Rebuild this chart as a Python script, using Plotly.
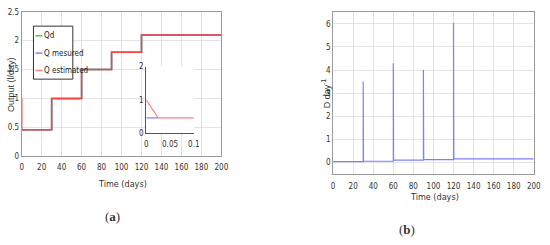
import plotly.graph_objects as go

# (a) output flow: set point, measured and estimated
t_steps = [0, 30, 30, 60, 60, 90, 90, 120, 120, 200]
q_d = [0.46, 0.46, 1.0, 1.0, 1.5, 1.5, 1.8, 1.8, 2.1, 2.1]
t_meas = [0, 30, 30, 60, 60, 90, 90, 120, 120, 200]
q_meas = [0.46, 0.46, 1.0, 1.0, 1.5, 1.5, 1.8, 1.8, 2.1, 2.1]
t_est = [0, 0.025, 30, 30, 60, 60, 90, 90, 120, 120, 200]
q_est = [1.0, 0.46, 0.46, 1.0, 1.0, 1.5, 1.5, 1.8, 1.8, 2.1, 2.1]

# inset zoom (first 0.1 day)
t_in_meas = [0, 0.025]
q_in_meas = [0.46, 0.46]
t_in_est = [0, 0.025, 0.1]
q_in_est = [1.0, 0.46, 0.46]

# (b) dilution rate with spikes at each step change
t_dil = [0, 30, 30, 30.3, 60, 60, 60.3, 90, 90, 90.3, 120, 120, 120.3, 200]
d_dil = [0.03, 0.03, 3.5, 0.05, 0.05, 4.3, 0.1, 0.1, 4.0, 0.12, 0.12, 6.05, 0.15, 0.15]

legend_names = ["Qd", "Q mesured", "Q estimated"]
legend_colors = ["#33dd33", "#8080ff", "#ff8080"]

FONT = "DejaVu Sans Condensed, Liberation Sans Narrow, Liberation Sans"
GRID = "#e3e3e3"
BOX = "#9a9a9a"

fig = go.Figure()

fig.add_trace(go.Scatter(x=t_steps, y=q_d, mode="lines", name="Qd",
                         line=dict(color="#33dd33", width=1.5), xaxis="x", yaxis="y"))
fig.add_trace(go.Scatter(x=t_meas, y=q_meas, mode="lines", name="Q mesured",
                         line=dict(color="#8080ff", width=1.5), xaxis="x", yaxis="y"))
fig.add_trace(go.Scatter(x=t_est, y=q_est, mode="lines", name="Q estimated",
                         line=dict(color="#ff4040", width=1.5), xaxis="x", yaxis="y"))

fig.add_trace(go.Scatter(x=t_in_meas, y=q_in_meas, mode="lines",
                         line=dict(color="#8080ff", width=1.2), xaxis="x3", yaxis="y3"))
fig.add_trace(go.Scatter(x=t_in_est, y=q_in_est, mode="lines",
                         line=dict(color="#ff8080", width=1.2), xaxis="x3", yaxis="y3"))

fig.add_trace(go.Scatter(x=t_dil, y=d_dil, mode="lines",
                         line=dict(color="#8080ff", width=1.2), xaxis="x2", yaxis="y2"))

tick = dict(family=FONT, size=8, color="#333")
box_axis = dict(showgrid=True, gridcolor=GRID, showline=True, linecolor=BOX, mirror=True,
                ticks="", zeroline=False, tickfont=tick)

fig.update_layout(
    width=550, height=245,
    margin=dict(l=0, r=0, t=0, b=0),
    paper_bgcolor="white", plot_bgcolor="white",
    showlegend=False,
    xaxis=dict(box_axis, domain=[0.0364, 0.4055], range=[0, 200], tickvals=list(range(0, 201, 20)),
               ticklabelstandoff=3, anchor="y"),
    yaxis=dict(box_axis, domain=[0.355, 0.967], range=[0, 2.5], tickvals=[0, 0.5, 1, 1.5, 2, 2.5], anchor="x"),
    xaxis2=dict(box_axis, domain=[0.612, 0.983], range=[0, 200], tickvals=list(range(0, 201, 20)),
                ticklabelstandoff=4, anchor="y2"),
    yaxis2=dict(box_axis, domain=[0.280, 0.9645], range=[-0.5, 6.5], tickvals=list(range(0, 7)), anchor="x2"),
    xaxis3=dict(domain=[0.2667, 0.3545], range=[0, 0.1], tickvals=[0, 0.05, 0.1], ticktext=["0", "0.05", "0.1"],
                showgrid=False, showline=True, linecolor="#555", zeroline=False, tickfont=tick,
                ticklabelstandoff=3, anchor="y3"),
    yaxis3=dict(domain=[0.453, 0.7347], range=[0, 2], tickvals=[0, 1, 2],
                showgrid=False, showline=True, linecolor="#555", zeroline=False, tickfont=tick, anchor="x3"),
)

# hand-made legend box, MATLAB style (short line samples)
fig.add_shape(type="rect", xref="paper", yref="paper", x0=32 / 550, x1=72 / 550,
              y0=1 - 78 / 245, y1=1 - 23 / 245, line=dict(color="#333", width=1), fillcolor="white")
for i, (nm, col) in enumerate(zip(legend_names, legend_colors)):
    yy = 1 - (33 + i * 18) / 245
    fig.add_shape(type="line", xref="paper", yref="paper", x0=34 / 550, x1=41 / 550, y0=yy, y1=yy,
                  line=dict(color=col, width=1.5))
    fig.add_annotation(text=nm, x=41 / 550, y=yy, xref="paper", yref="paper", xanchor="left",
                       yanchor="middle", showarrow=False, font=dict(family=FONT, size=8, color="#222"))


def label(txt, px, py, size=9, angle=0, family=FONT, xanchor="center"):
    fig.add_annotation(text=txt, x=px / 550, y=1 - py / 245, xref="paper", yref="paper",
                       xanchor=xanchor, yanchor="middle", showarrow=False, textangle=angle,
                       font=dict(family=family, size=size, color="#333"))


label("Time (days)", 122, 187)
label("Time (days)", 440, 200)
label("Output (l/day)", 2, 83, angle=-90, family="Liberation Sans, Arial", xanchor="left")
label("D day<sup>-1</sup>", 329, 93, angle=-90, family="Liberation Sans, Arial")
label("(<b>a</b>)", 112, 221, size=13, family="Liberation Serif, serif")
label("(<b>b</b>)", 412, 234, size=13, family="Liberation Serif, serif")

# page body has a default 8px margin; drop it so the figure sits at 0,0
fig.write_html("out.html", config={"displayModeBar": False},
               post_script="document.body.style.margin='0';")
